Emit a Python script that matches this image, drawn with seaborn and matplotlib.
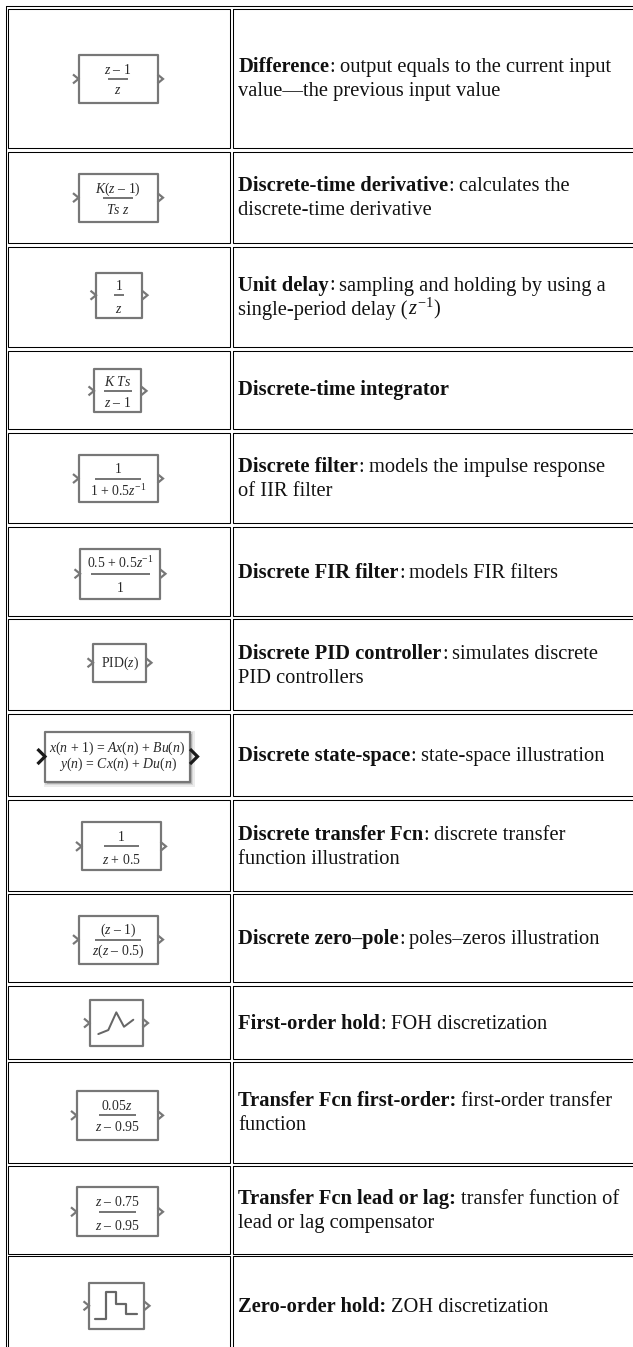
import matplotlib
matplotlib.use("Agg")
import matplotlib.pyplot as plt
from matplotlib.patches import Rectangle
import seaborn as sns

# table rows, in pixels of the source page
row_heights = [138.7, 90.7, 100, 78, 90.7, 88.7, 90.7, 82.3, 91, 88, 72.7, 101.6, 88, 100]
row_gaps = [4, 4, 4, 4, 4, 3.3, 4, 4, 3, 4, 2.7, 2.4, 2]

# block sizes and offsets from the cell centre
block_widths = [79, 79, 46, 47, 79, 80, 53, 145, 79, 79, 53, 81, 81, 55]
block_heights = [48, 48, 45, 43, 47, 50, 38, 50, 48, 48, 46, 49, 49, 46]
block_dx = [-1, -1, 0, -1.5, -1, 1, .5, -1.5, 2, -1, -3, -2, -2, -2.5]
block_dy = [.3, .3, -1.5, 1.2, .5, 2, -2, 1.3, .5, 1.2, .3, 2.8, 2, 0]

numerators = [r"$z$ – 1", r"$K(z$ – 1)", "1", r"$K\ Ts$", "1", r"0.5 + 0.5$z^{-1}$", None, None,
              "1", r"($z$ – 1)", None, r"0.05$z$", r"$z$ – 0.75", None]
denominators = [r"$z$", r"$Ts\ z$", r"$z$", r"$z$ – 1", r"1 + 0.5$z^{-1}$", "1", None, None,
                r"$z$ + 0.5", r"$z(z$ – 0.5)", None, r"$z$ – 0.95", r"$z$ – 0.95", None]
bar_widths = [20, 30, 10, 28, 46, 59, 0, 0, 35, 46, 0, 37, 37, 0]
denom_dy = [15, 16, 18, 16, 17.5, 18, 0, 0, 18, 15.5, 0, 15.4, 18.3, 0]

pid_label = r"PID($z$)"
state_space_lines = [r"$x(n$ + 1) = $Ax(n)$ + $Bu(n)$", r"$y(n)$ = $Cx(n)$ + $Du(n)$"]

# waveforms on the two hold blocks
foh_t = [-17.7, -7.7, .3, 8, 17.3]
foh_y = [-11, -7, 10.7, -3.7, 3.3]
zoh_t = [-21.7, -10.7, -10.7, -.7, -.7, 9.3, 9.3, 20]
zoh_y = [-12.7, -12.7, 13.7, 13.7, 2.3, 2.3, -8.3, -8.3]

B, R = "bold", "normal"
descriptions = [
    [[("Difference", B), (":", R), (" output equals to the current input", R)],
     [("value—the previous input value", R)]],
    [[("Discrete-time derivative", B), (":", R), (" calculates the", R)],
     [("discrete-time derivative", R)]],
    [[("Unit delay", B), (":", R), (" sampling and holding by using a", R)],
     [("single-period delay (", R), (r"$z^{-1}$", R), (")", R)]],
    [[("Discrete-time integrator", B)]],
    [[("Discrete filter", B), (":", R), (" models the impulse response", R)],
     [("of IIR filter", R)]],
    [[("Discrete FIR filter", B), (":", R), (" models FIR filters", R)]],
    [[("Discrete PID controller", B), (":", R), (" simulates discrete", R)],
     [("PID controllers", R)]],
    [[("Discrete state-space", B), (":", R), (" state-space illustration", R)]],
    [[("Discrete transfer Fcn", B), (":", R), (" discrete transfer", R)],
     [("function illustration", R)]],
    [[("Discrete zero–pole", B), (":", R), (" poles–zeros illustration", R)]],
    [[("First-order hold", B), (":", R), (" FOH discretization", R)]],
    [[("Transfer Fcn first-order:", B), (" first-order transfer", R)],
     [("function", R)]],
    [[("Transfer Fcn lead or lag:", B), (" transfer function of", R)],
     [("lead or lag compensator", R)]],
    [[("Zero-order hold:", B), (" ZOH discretization", R)]],
]

sns.set_theme(style="white")
plt.rcParams["font.family"] = ["Liberation Serif", "DejaVu Serif"]
plt.rcParams["mathtext.fontset"] = "custom"
plt.rcParams["mathtext.rm"] = "Liberation Serif"
plt.rcParams["mathtext.it"] = "Liberation Serif:italic"
plt.rcParams["mathtext.bf"] = "Liberation Serif:bold"

GREY = "#777777"
INK = "#2a2a2a"
PX = 0.72  # one pixel in points at dpi 100

fig = plt.figure(figsize=(6.33, 13.47), dpi=100)
ax = fig.add_axes([0, 0, 1, 1])
renderer = fig.canvas.get_renderer()


def draw_runs(x, y, runs, size=14.75):
    for text, weight in runs:
        if text.startswith(" "):
            x += size * 0.22 / PX
            text = text[1:]
        t = ax.text(x, y, text, fontsize=size, fontweight=weight, color="#111111",
                    ha="left", va="baseline")
        x += t.get_window_extent(renderer).width


def draw_cell(x0, x1, y0, y1):
    ax.add_patch(Rectangle((x0, y0), x1 - x0, y1 - y0, fill=False, ec="black", lw=1.05 * PX))


def draw_ports(cx, cy, w, color=GREY, lw=2.2, reach=5.5, half=4.5):
    left, right = cx - w / 2, cx + w / 2
    for x in (left - reach, right):
        ax.plot([x, x + reach, x], [cy - half, cy, cy + half], color=color, lw=lw * PX,
                solid_joinstyle="miter", solid_capstyle="butt")


# outer table frame
ax.plot([5.5, 5.5, 640], [1360, 5.5, 5.5], color="black", lw=1.05 * PX)

top = 9.3
for i, height in enumerate(row_heights):
    bottom = top + height
    draw_cell(8.3, 229.7, top, bottom)
    draw_cell(233.3, 660, top, bottom)

    cy = (top + bottom) / 2 + block_dy[i]
    cx = 119 + block_dx[i]
    w, h = block_widths[i], block_heights[i]

    if i == 7:
        # the state-space block has a soft shadow and heavier ports
        for grow, shade in [(3, "#ececec"), (1.5, "#d6d6d6"), (0, "#b4b4b4")]:
            ax.add_patch(Rectangle((cx - w / 2 + 1.5 - grow, cy - h / 2 + 2 - grow), w + 2 * grow, h + 2 * grow,
                                   fc=shade, ec="none"))
        draw_ports(cx, cy, w, color="#1a1a1a", lw=3.2, reach=7.5, half=7.5)
    else:
        draw_ports(cx, cy, w)
    ax.add_patch(Rectangle((cx - w / 2, cy - h / 2), w, h, fc="white", ec=GREY, lw=2.2 * PX,
                           joinstyle="round"))

    if numerators[i] is not None:
        bar = bar_widths[i] / 2
        ax.plot([cx - bar, cx + bar], [cy, cy], color=GREY, lw=2 * PX, solid_capstyle="butt")
        ax.text(cx, cy - 5.3, numerators[i], fontsize=9.9, color=INK, ha="center", va="baseline")
        ax.text(cx, cy + denom_dy[i], denominators[i], fontsize=9.9, color=INK, ha="center", va="baseline")

    # text sits a little below the cell centre
    lines = descriptions[i]
    mid = (top + bottom) / 2
    for k, runs in enumerate(lines):
        draw_runs(238.5, mid + 5.8 + 24 * (k - (len(lines) - 1) / 2), runs)

    if i == 6:
        ax.text(cx, cy + 4, pid_label, fontsize=9.9, color=INK, ha="center", va="baseline")
    if i == 7:
        ax.text(cx, cy - 5, state_space_lines[0], fontsize=9.9, color=INK, ha="center", va="baseline")
        ax.text(cx, cy + 11, state_space_lines[1], fontsize=9.9, color=INK, ha="center", va="baseline")
    if i == 10:
        sns.lineplot(x=[cx + t for t in foh_t], y=[cy - v for v in foh_y], sort=False, estimator=None,
                     color="#666666", lw=2 * PX, ax=ax, legend=False)
    if i == 13:
        sns.lineplot(x=[cx + t for t in zoh_t], y=[cy - v for v in zoh_y], sort=False, estimator=None,
                     color="#666666", lw=2.2 * PX, ax=ax, legend=False)

    if i < len(row_gaps):
        top = bottom + row_gaps[i]

ax.set_xlim(0, 633)
ax.set_ylim(1347, 0)
ax.set_axis_off()
fig.savefig("out.png", dpi=100)
